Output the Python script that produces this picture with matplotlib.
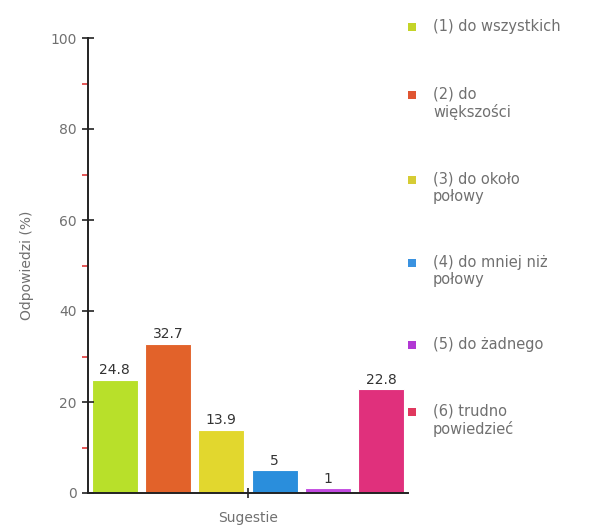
import matplotlib
matplotlib.use("Agg")
import matplotlib.pyplot as plt
from matplotlib.patches import Rectangle
from matplotlib.ticker import MultipleLocator

GRAY, DARK = "#707070", "#333333"

categories = ["(1) do wszystkich", "(2) do\nwiększości", "(3) do około\npołowy",
              "(4) do mniej niż\npołowy", "(5) do żadnego", "(6) trudno\npowiedzieć"]
values = [24.8, 32.7, 13.9, 5, 1, 22.8]
value_labels = ["24.8", "32.7", "13.9", "5", "1", "22.8"]
bar_colors = ["#b8e02a", "#e2622a", "#e2d72e", "#2a8edc", "#c24ae0", "#e0307c"]
legend_colors = ["#c4d428", "#e05532", "#d6cc34", "#3a92e0", "#b238d4", "#e0385e"]
legend_y = [27, 95, 180, 263, 345, 412]  # pixel rows of legend markers

fig = plt.figure(figsize=(6.14, 5.29), dpi=100, facecolor="white")
ax = fig.add_axes([88 / 614, 1 - 493 / 529, 320 / 614, 455 / 529])

x = range(len(values))
ax.bar(x, values, width=0.86, color=bar_colors, edgecolor="white", linewidth=0.8)
for xi, v, lab in zip(x, values, value_labels):
    ax.text(xi, v + 0.6, lab, ha="center", va="bottom", fontsize=10, color=DARK)

ax.set_xlim(-0.5, 5.5)
ax.set_ylim(0, 100)
for s in ["top", "right"]:
    ax.spines[s].set_visible(False)
for s in ["left", "bottom"]:
    ax.spines[s].set_color("#222222")
    ax.spines[s].set_linewidth(1.4)

ax.yaxis.set_major_locator(MultipleLocator(20))
ax.yaxis.set_minor_locator(MultipleLocator(10))
ax.tick_params(axis="y", which="major", direction="inout", length=8, width=1.2,
               colors="#222222", labelcolor=GRAY, labelsize=10, pad=4)
ax.tick_params(axis="y", which="minor", direction="out", length=4, width=1.2, colors="#e03a3a")
ax.set_xticks([2.5])
ax.set_xticklabels([""])
ax.tick_params(axis="x", direction="inout", length=7, width=1.2, colors="#222222")

ax.set_ylabel("Odpowiedzi (%)", color=GRAY, fontsize=10, labelpad=12)
ax.set_xlabel("Sugestie", color=GRAY, fontsize=10, labelpad=6)

# legend drawn by hand to keep the uneven row spacing
for lab, col, py in zip(categories, legend_colors, legend_y):
    yf = 1 - py / 529
    fig.add_artist(Rectangle((408 / 614, yf - 4 / 529), 8 / 614, 8 / 529,
                             transform=fig.transFigure, color=col, lw=0))
    fig.text(433 / 614, yf + 8 / 529, lab, ha="left", va="top", fontsize=10.5,
             color=GRAY, linespacing=1.15)

fig.savefig("out.png", dpi=100, facecolor="white")
